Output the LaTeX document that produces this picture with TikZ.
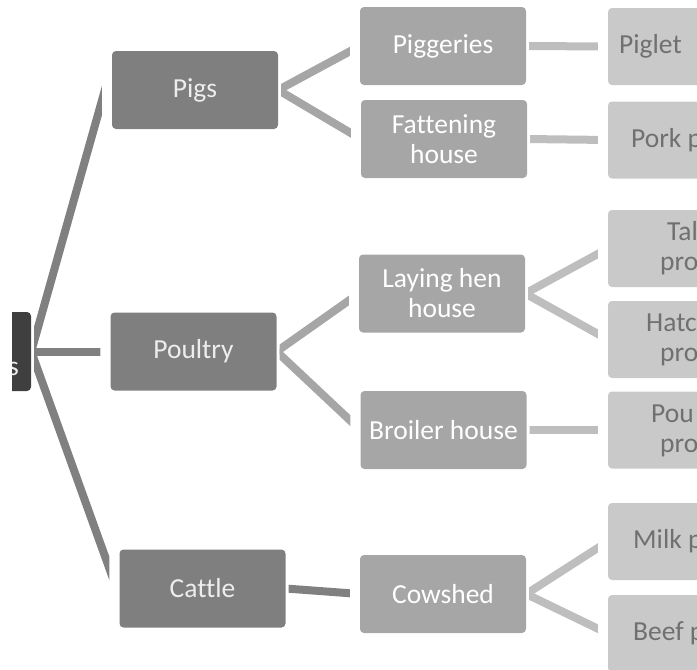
\documentclass[tikz,border=0pt]{standalone}
\usepackage{fontspec}
\setmainfont{Carlito}[Ligatures={NoCommon}]
\definecolor{rootfill}{HTML}{3F3F3F}
\definecolor{onefill}{HTML}{7F7F7F}
\definecolor{twofill}{HTML}{A6A6A6}
\definecolor{threefill}{HTML}{C9C9C9}
\definecolor{rootconn}{HTML}{808080}
\definecolor{oneconn}{HTML}{A6A6A6}
\definecolor{twoconn}{HTML}{BEBEBE}
\definecolor{lighttext}{HTML}{EDEDED}
\definecolor{darktext}{HTML}{707070}
\newcommand\linkit[4]{%
  \begin{scope}
    \clip ([xshift=3pt]#2.east |- ytop) rectangle ([xshift=-10pt]#3.west |- ybot);
    \draw[#1] (#2.east) -- ([yshift=#4]#3.west);
  \end{scope}}
\begin{document}
\begin{tikzpicture}[x=1pt,y=-1pt,
  txt/.style={font=\fontsize{27.5}{30}\selectfont},
  box/.style={txt, rounded corners=4pt, inner sep=0pt, align=center},
  rootbox/.style={box, fill=rootfill, text=lighttext, minimum width=181pt, minimum height=79pt},
  onebox/.style={box, fill=onefill, text=lighttext, minimum width=166pt, minimum height=78pt},
  twobox/.style={box, fill=twofill, text=white, minimum width=166pt, minimum height=78pt},
  threebox/.style={box, fill=threefill, minimum width=204pt, minimum height=77pt},
  frag/.style={txt, inner sep=0pt, anchor=base west, text=darktext, align=left},
  lineroot/.style={draw=rootconn, line width=8pt},
  lineone/.style={draw=oneconn, line width=8pt},
  linetwo/.style={draw=twoconn, line width=8pt}]
\useasboundingbox (0,0) rectangle (697,670);
\clip (0,0) rectangle (697,670);
\coordinate (ytop) at (0,-20);
\coordinate (ybot) at (0,700);

% root (cut at the left)
\begin{scope}
  \clip (12,0) rectangle (60,670);
  \node[rootbox] (root) at (-59.5,351.5) {};
  \node[txt, inner sep=0pt, anchor=base east, text=lighttext] (roottxt) at (19,375) {s};
\end{scope}

% level one
\node[onebox] (pigs) at (195,90) {Pigs};
\node[onebox] (poultry) at (193.5,351.5) {Poultry};
\node[onebox] (cattle) at (202.5,588.5) {Cattle};

% level two
\node[twobox] (pigg) at (443,46) {Piggeries};
\node[twobox] (fatt) at (444,139) {Fattening\\house};
\node[twobox] (lay) at (442,293.5) {Laying hen\\house};
\node[twobox] (broil) at (443.5,430) {Broiler house};
\node[twobox] (cow) at (443,594) {Cowshed};

% level three (cut at the right)
\node[threebox] (piglet) at (710,46.5) {};
\node[threebox] (pork) at (710,140) {};
\node[threebox] (table) at (710,248.5) {};
\node[threebox] (hatch) at (710,339.5) {};
\node[threebox] (pprod) at (710,430) {};
\node[threebox] (milk) at (710,541.5) {};
\node[threebox] (beef) at (710,633.5) {};

\node[frag] (fpiglet) at (619,53.5) {Piglet};
\node[frag] (fpork) at (631,147) {Pork p};
\node[frag] (ftable1) at (667,240.5) {Tal};
\node[frag] (ftable2) at (660,270.5) {pro};
\node[frag] (fhatch1) at (646,331.5) {Hatc};
\node[frag] (fhatch2) at (660,361.5) {pro};
\node[frag] (fpprod1) at (651,422) {Pou};
\node[frag] (fpprod2) at (660,452) {pro};
\node[frag] (fmilk) at (633,548.5) {Milk p};
\node[frag] (fbeef) at (633,640.5) {Beef p};

% connectors
\linkit{lineroot}{root}{pigs}{24.5pt}
\linkit{lineroot}{root}{poultry}{0pt}
\linkit{lineroot}{root}{cattle}{-7.5pt}

\linkit{lineone}{pigs}{pigg}{0pt}
\linkit{lineone}{pigs}{fatt}{0pt}
\linkit{lineone}{poultry}{lay}{0pt}
\linkit{lineone}{poultry}{broil}{0pt}
\linkit{lineroot}{cattle}{cow}{0pt}

\linkit{linetwo}{pigg}{piglet}{0pt}
\linkit{linetwo}{fatt}{pork}{0pt}
\linkit{linetwo}{lay}{table}{0pt}
\linkit{linetwo}{lay}{hatch}{0pt}
\linkit{linetwo}{broil}{pprod}{0pt}
\linkit{linetwo}{cow}{milk}{0pt}
\linkit{linetwo}{cow}{beef}{0pt}
\end{tikzpicture}
\end{document}
